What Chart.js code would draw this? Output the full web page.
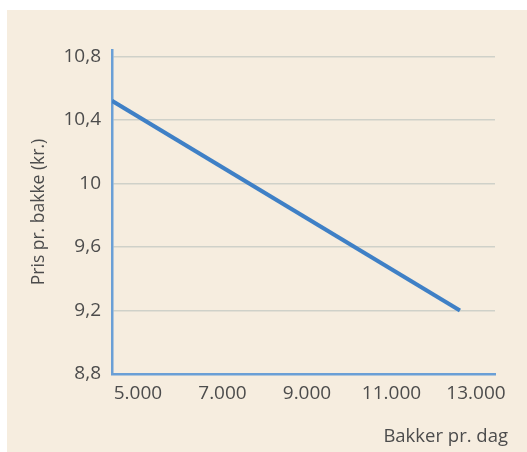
<!DOCTYPE html>
<html>
<head>
<meta charset="utf-8">
<script src="https://cdn.jsdelivr.net/npm/chart.js@4/dist/chart.umd.min.js"></script>
<style>
  html, body { margin: 0; padding: 0; background: #ffffff; }
  body { width: 527px; height: 452px; position: relative; overflow: hidden; }
  #panel { position: absolute; left: 7px; top: 10px; width: 520px; height: 442px; background: #f6eddf; }
</style>
</head>
<body>
<div id="panel"><canvas id="chart"></canvas></div>
<script>
// data
const xTicks = [5000, 7000, 9000, 11000, 13000];
const yTicks = [8.8, 9.2, 9.6, 10, 10.4, 10.8];
const bakkerPrDag = [4385, 12620];
const prisPrBakke = [10.52, 9.2];

const xTitle = 'Bakker pr. dag';
const yTitle = 'Pris pr. bakke (kr.)';

const textColor = '#4c4c4c';
const axisBlue = '#6a9fd6';
const fontFamily = '"Open Sans", "Noto Sans", sans-serif';

// thousand separator with a dot, decimal comma
function fmtX(v) {
    return String(v).replace(/\B(?=(\d{3})+(?!\d))/g, '.');
}
function fmtY(v) {
    return String(Math.round(v * 10) / 10).replace('.', ',');
}

// axis title under the x axis, right aligned like the print
const xTitlePlugin = {
    id: 'xTitle',
    afterDraw(chart) {
        const ctx = chart.ctx;
        ctx.save();
        ctx.font = '18.5px ' + fontFamily;
        ctx.fillStyle = textColor;
        ctx.textAlign = 'right';
        ctx.textBaseline = 'middle';
        ctx.fillText(xTitle, 501, 427);
        ctx.restore();
    }
};

new Chart(document.getElementById('chart'), {
    type: 'line',
    data: {
        datasets: [{
            data: bakkerPrDag.map((x, i) => ({ x: x, y: prisPrBakke[i] })),
            borderColor: '#3f80c6',
            borderWidth: 4,
            pointRadius: 0,
            fill: false,
            tension: 0
        }]
    },
    options: {
        responsive: true,
        maintainAspectRatio: false,
        animation: false,
        layout: { padding: { top: 40, right: 32, bottom: 0, left: 0 } },
        plugins: { legend: { display: false }, tooltip: { enabled: false } },
        scales: {
            x: {
                type: 'linear',
                min: 4385,
                max: 13450,
                afterBuildTicks: s => { s.ticks = xTicks.map(v => ({ value: v })); },
                afterFit: s => { s.height = 78; },
                grid: { display: false, drawTicks: false },
                border: { display: true, color: axisBlue, width: 2.5 },
                ticks: {
                    padding: 8,
                    color: textColor,
                    font: { family: fontFamily, size: 19 },
                    maxRotation: 0,
                    callback: v => fmtX(v)
                }
            },
            y: {
                min: 8.8,
                max: 10.84,
                afterBuildTicks: s => { s.ticks = yTicks.map(v => ({ value: v })); },
                afterFit: s => { s.width = 105; },
                grid: {
                    drawTicks: false,
                    color: c => (c.tick && c.tick.value === 8.8) ? 'rgba(0,0,0,0)' : '#cfd1c9',
                    lineWidth: 1.5
                },
                border: { display: true, color: axisBlue, width: 2.5 },
                ticks: {
                    padding: 11,
                    color: textColor,
                    font: { family: fontFamily, size: 19 },
                    callback: v => fmtY(v)
                },
                title: {
                    display: true,
                    text: yTitle,
                    color: textColor,
                    font: { family: fontFamily, size: 17.5 },
                    padding: { top: 22, bottom: 0 }
                }
            }
        }
    },
    plugins: [xTitlePlugin]
});
</script>
</body>
</html>
